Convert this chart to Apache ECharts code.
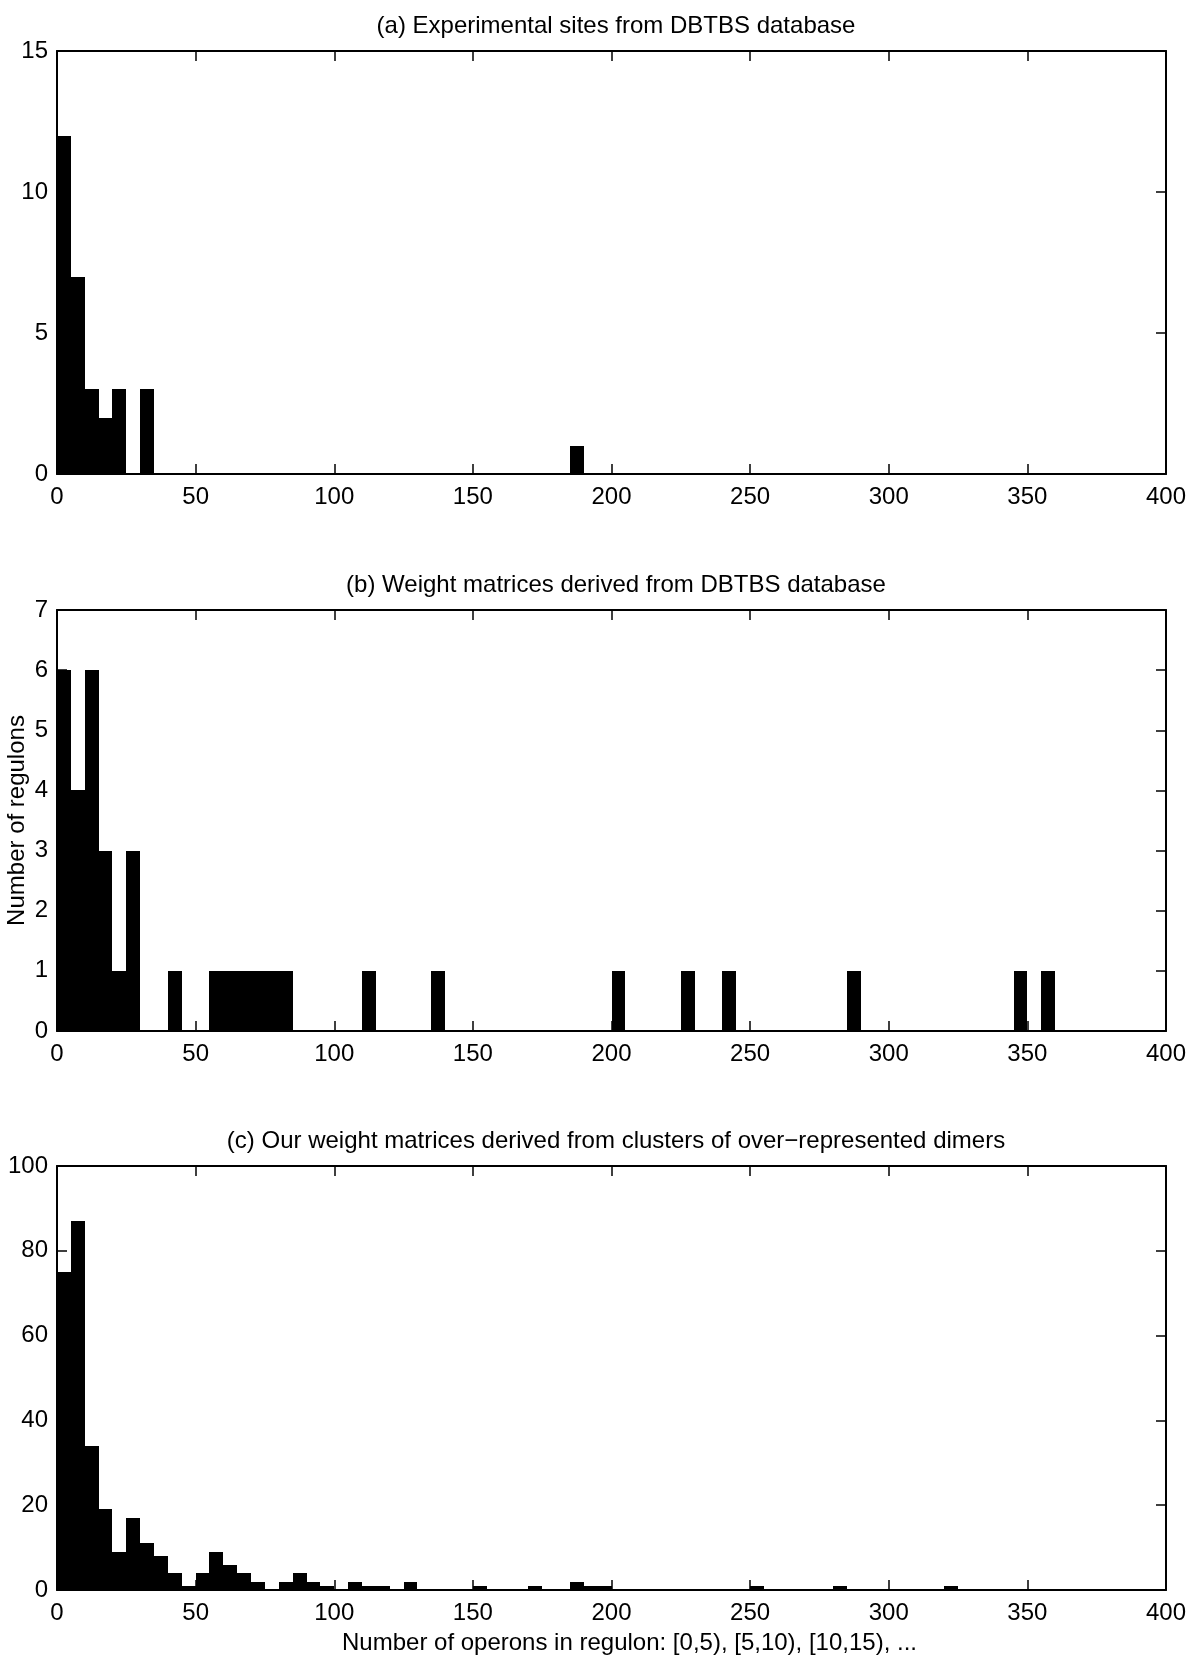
<!DOCTYPE html>
<html>
<head>
<meta charset="utf-8">
<script src="https://cdn.jsdelivr.net/npm/echarts@6/dist/echarts.min.js"></script>
<style>
html,body{margin:0;padding:0;background:#fff;}
#chart{width:1196px;height:1656px;}
</style>
</head>
<body>
<div id="chart"></div>
<script>
// Histogram bins: [start, start+5)
const binWidth = 5;
const binStarts = [0,5,10,15,20,25,30,35,40,45,50,55,60,65,70,75,80,85,90,95,
  100,105,110,115,120,125,130,135,140,145,150,155,160,165,170,175,180,185,190,195,
  200,205,210,215,220,225,230,235,240,245,250,255,260,265,270,275,280,285,290,295,
  300,305,310,315,320,325,330,335,340,345,350,355,360,365,370,375,380,385,390,395];

// (a) Experimental sites from DBTBS database
const countsA = [12,7,3,2,3,0,3,0,0,0, 0,0,0,0,0,0,0,0,0,0,
  0,0,0,0,0,0,0,0,0,0, 0,0,0,0,0,0,0,1,0,0,
  0,0,0,0,0,0,0,0,0,0, 0,0,0,0,0,0,0,0,0,0,
  0,0,0,0,0,0,0,0,0,0, 0,0,0,0,0,0,0,0,0,0];

// (b) Weight matrices derived from DBTBS database
const countsB = [6,4,6,3,1,3,0,0,1,0, 0,1,1,1,1,1,1,0,0,0,
  0,0,1,0,0,0,0,1,0,0, 0,0,0,0,0,0,0,0,0,0,
  1,0,0,0,0,1,0,0,1,0, 0,0,0,0,0,0,0,1,0,0,
  0,0,0,0,0,0,0,0,0,1, 0,1,0,0,0,0,0,0,0,0];

// (c) Our weight matrices derived from clusters of over-represented dimers
const countsC = [75,87,34,19,9,17,11,8,4,1, 4,9,6,4,2,0,2,4,2,1,
  0,2,1,1,0,2,0,0,0,0, 1,0,0,0,1,0,0,2,1,1,
  0,0,0,0,0,0,0,0,0,0, 1,0,0,0,0,0,1,0,0,0,
  0,0,0,0,1,0,0,0,0,0, 0,0,0,0,0,0,0,0,0,0];

const xTicks = [0,50,100,150,200,250,300,350,400];
const titles = [
  '(a) Experimental sites from DBTBS database',
  '(b) Weight matrices derived from DBTBS database',
  '(c) Our weight matrices derived from clusters of over\u2212represented dimers'
];
const yMax = [15, 7, 100];
const yStep = [5, 1, 20];
const yNameB = 'Number of regulons';
const xName = 'Number of operons in regulon: [0,5), [5,10), [10,15), ...';

const FONT = '"Liberation Sans", Arial, Helvetica, sans-serif';
const FS = 24;

const grids = [
  {left:57, right:30, top:51, height:423, outerBoundsMode:'none', containLabel:false},
  {left:57, right:30, top:610, height:421, outerBoundsMode:'none', containLabel:false},
  {left:57, right:30, top:1166, height:424, outerBoundsMode:'none', containLabel:false}
];

const lineStyle = {color:'#000', width:2};
const tickStyle = {color:'#000', width:1.5};

const xAxes = [], yAxes = [], series = [], titleArr = [];
const allCounts = [countsA, countsB, countsC];

grids.forEach((g, i) => {
  xAxes.push({
    type:'value', gridIndex:i, position:'bottom', min:0, max:400, interval:50,
    axisLine:{show:true, onZero:false, lineStyle:lineStyle},
    axisTick:{show:true, inside:true, length:10, lineStyle:tickStyle},
    axisLabel:{show:true, color:'#000', fontSize:FS, fontFamily:FONT, margin:11},
    splitLine:{show:false},
    name: i === 2 ? xName : '',
    nameLocation:'middle', nameGap:41, nameMoveOverlap:false,
    nameTextStyle:{color:'#000', fontSize:FS, fontFamily:FONT, padding:[0,0,0,36]}
  });
  xAxes.push({
    type:'value', gridIndex:i, position:'top', min:0, max:400, interval:50,
    axisLine:{show:true, onZero:false, lineStyle:lineStyle},
    axisTick:{show:true, inside:true, length:10, lineStyle:tickStyle},
    axisLabel:{show:false}, splitLine:{show:false}
  });
  yAxes.push({
    type:'value', gridIndex:i, position:'left', min:0, max:yMax[i], interval:yStep[i],
    axisLine:{show:true, onZero:false, lineStyle:lineStyle},
    axisTick:{show:true, inside:true, length:10, lineStyle:tickStyle},
    axisLabel:{show:true, color:'#000', fontSize:FS, fontFamily:FONT, margin:9},
    splitLine:{show:false},
    name: i === 1 ? yNameB : '',
    nameLocation:'middle', nameGap:28, nameRotate:90, nameMoveOverlap:false,
    nameTextStyle:{color:'#000', fontSize:FS, fontFamily:FONT}
  });
  yAxes.push({
    type:'value', gridIndex:i, position:'right', min:0, max:yMax[i], interval:yStep[i],
    axisLine:{show:true, onZero:false, lineStyle:lineStyle},
    axisTick:{show:true, inside:true, length:10, lineStyle:tickStyle},
    axisLabel:{show:false}, splitLine:{show:false}
  });

  const data = binStarts.map((s, k) => [s, allCounts[i][k]]).filter(d => d[1] > 0);
  series.push({
    type:'custom', xAxisIndex:2*i, yAxisIndex:2*i, z:1,
    data:data,
    renderItem:function(params, api){
      const x0 = api.value(0), y = api.value(1);
      const p0 = api.coord([x0, y]);
      const p1 = api.coord([x0 + binWidth, 0]);
      const xa = Math.round(p0[0]), xb = Math.round(p1[0]);
      const ya = Math.round(p0[1]), yb = p1[1];
      return {type:'rect', shape:{x:xa, y:ya, width:xb-xa, height:yb-ya},
        style:{fill:'#000', stroke:null}};
    }
  });

  titleArr.push({
    text: titles[i], left: 611, textAlign:'center', top: g.top - 42,
    textStyle:{color:'#000', fontSize:FS, fontWeight:'normal', fontFamily:FONT}
  });
});

const chart = echarts.init(document.getElementById('chart'), null, {renderer:'canvas'});
chart.setOption({
  animation:false,
  backgroundColor:'#fff',
  title:titleArr,
  grid:grids,
  xAxis:xAxes,
  yAxis:yAxes,
  series:series
});
</script>
</body>
</html>
